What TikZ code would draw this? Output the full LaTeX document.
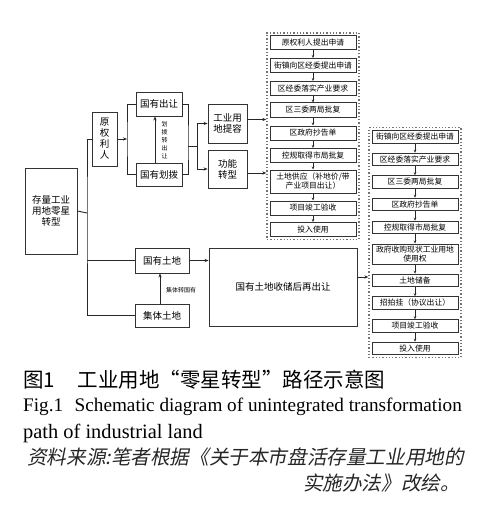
\documentclass[tikz,border=0pt]{standalone}
\usepackage{fontspec}
\setmainfont{Noto Sans CJK SC}
\newfontfamily\enfont{Liberation Serif}
\newfontfamily\slfont[FakeSlant=0.2]{Noto Sans CJK SC}
\usetikzlibrary{arrows.meta,fit}

\tikzset{
  box/.style={draw=black!80, line width=0.9pt, align=center, inner sep=1pt,
    font=\fontsize{9.5}{11}\selectfont},
  stepbox/.style={draw=black!80, line width=1pt, minimum width=86pt, minimum height=14pt,
    align=center, inner sep=1pt, font=\fontsize{7.8}{9}\selectfont},
  smallbox/.style={stepbox, minimum height=12.5pt},
  frame/.style={draw=black!55, dotted, line width=1.3pt, inner sep=2.5pt},
  arr/.style={-{Stealth[length=4pt,width=3.2pt]}, line width=0.8pt, draw=black!85},
  ln/.style={line width=0.9pt, draw=black!85},
  note/.style={font=\fontsize{6}{8}\selectfont, align=center, inner sep=0pt}
}

\begin{document}
\begin{tikzpicture}[x=1pt,y=-1pt]
\useasboundingbox (0,0) rectangle (500,532);

% left part
\node[box, minimum width=52pt, minimum height=86pt] (cunliang) at (51,211) {存量工业\\用地零星\\转型};
\node[box, minimum width=25pt, minimum height=54pt] (yuanquan) at (104.5,139) {原\\权\\利\\人};
\node[box, minimum width=46pt, minimum height=24pt] (churang) at (159,104) {国有出让};
\node[box, minimum width=46pt, minimum height=23pt] (huabo) at (159,174.5) {国有划拨};
\node[box, minimum width=39pt, minimum height=39pt] (tirong) at (227.5,123.5) {工业用\\地提容};
\node[box, minimum width=39pt, minimum height=38pt] (zhuanxing) at (227.5,169) {功能\\转型};
\node[box, minimum width=54pt, minimum height=25pt] (guoyou) at (162,260.5) {国有土地};
\node[box, minimum width=54pt, minimum height=23pt] (jiti) at (162,315.5) {集体土地};
\node[box, minimum width=148pt, minimum height=78pt] (shouchu) at (283,287) {国有土地收储后再出让};

\node[note] (hbzcr) at (164.5,140) {划\\拨\\转\\出\\让};
\node[note, anchor=west] (jtzgy) at (166,290) {集体转国有};

% joints
\coordinate (trunk) at (87,213);
\coordinate (split1) at (127,139);
\coordinate (join1) at (188,146);
\coordinate (split2) at (197,146);

\draw[ln] (cunliang.east) -- (trunk);
\draw[ln] (yuanquan.west) -| (trunk) |- (jiti.west);
\draw[ln] (guoyou.west) -- (guoyou.west -| trunk);
\draw[arr] (yuanquan.east) -- (split1);
\draw[ln] (churang.west) -| (split1) |- (huabo.west);
\draw[ln] (churang.east) -| (join1) |- (huabo.east);
\draw[ln] (join1) -- (split2);
\draw[arr] (split2) |- (tirong.west);
\draw[arr] (split2) |- (zhuanxing.west);
\draw[arr] ([xshift=-4pt]huabo.north) -- ([xshift=-4pt]churang.south);
\draw[arr] ([xshift=-2pt]jiti.north) -- ([xshift=-2pt]guoyou.south);
\draw[arr] (guoyou.east) -- (guoyou.east -| shouchu.west);

% first column
\node[stepbox] (a1) at (313,43) {原权利人提出申请};
\node[stepbox] (a2) at (313,65.5) {街镇向区经委提出申请};
\node[stepbox] (a3) at (313,88.5) {区经委落实产业要求};
\node[stepbox] (a4) at (313,110) {区三委两局批复};
\node[stepbox] (a5) at (313,133) {区政府抄告单};
\node[stepbox] (a6) at (313,155.5) {控规取得市局批复};
\node[stepbox, minimum height=23pt] (a7) at (313,181.5) {土地供应（补地价/带\\产业项目出让）};
\node[stepbox] (a8) at (313,208) {项目竣工验收};
\node[stepbox] (a9) at (313,229.5) {投入使用};
\node[frame, fit=(a1)(a9)] (f1) {};

% second column
\node[smallbox] (b1) at (415,137) {街镇向区经委提出申请};
\node[smallbox] (b2) at (415,159.5) {区经委落实产业要求};
\node[smallbox] (b3) at (415,182) {区三委两局批复};
\node[smallbox] (b4) at (415,204.5) {区政府抄告单};
\node[smallbox] (b5) at (415,227.5) {控规取得市局批复};
\node[smallbox, minimum height=20pt] (b6) at (415,254) {政府收购现状工业用地\\使用权};
\node[smallbox] (b7) at (415,280.5) {土地储备};
\node[smallbox] (b8) at (415,303) {招拍挂（协议出让）};
\node[smallbox] (b9) at (415,326) {项目竣工验收};
\node[smallbox] (b10) at (415,348.5) {投入使用};
\node[frame, fit=(b1)(b10)] (f2) {};

\foreach \i/\j in {1/2,2/3,3/4,4/5,5/6,6/7,7/8,8/9}
  \draw[arr, line width=0.6pt, -{Stealth[length=3pt,width=2.5pt]}] (a\i.south) -- (a\j.north);
\foreach \i/\j in {1/2,2/3,3/4,4/5,5/6,6/7,7/8,8/9,9/10}
  \draw[arr, line width=0.6pt, -{Stealth[length=3pt,width=2.5pt]}] (b\i.south) -- (b\j.north);

\draw[arr] ([yshift=4pt]tirong.east) -- ([yshift=4pt]tirong.east -| f1.west);
\draw[arr] ([yshift=-4pt]zhuanxing.east) -- ([yshift=-4pt]zhuanxing.east -| f1.west);
\draw[arr] ([yshift=10pt]shouchu.east) -- ([yshift=10pt]shouchu.east -| f2.west);

% caption
\node[anchor=base west, inner sep=0pt, font=\fontsize{20.5}{22}\selectfont] (cap1) at (23,387) {图1\hspace{1.1em}工业用地“零星转型”路径示意图};
\node[anchor=base west, inner sep=0pt, font=\enfont\fontsize{19.2}{22}\selectfont] (cap2) at (23,411) {Fig.1\hspace{0.6em}Schematic diagram of unintegrated transformation};
\node[anchor=base west, inner sep=0pt, font=\enfont\fontsize{20.4}{22}\selectfont] (cap3) at (23,438) {path of industrial land};
\node[anchor=base west, inner sep=0pt, font=\slfont\fontsize{19.6}{22}\selectfont, text=black!85] (cap4) at (27,464) {资料来源:笔者根据《关于本市盘活存量工业用地的};
\node[anchor=base east, inner sep=0pt, font=\slfont\fontsize{19.6}{22}\selectfont, text=black!85] (cap5) at (460,490) {实施办法》改绘。};
\end{tikzpicture}
\end{document}
